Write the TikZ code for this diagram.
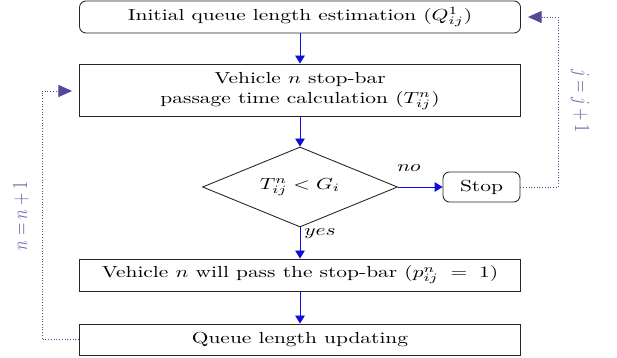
\documentclass[tikz,border=0pt]{standalone}
\usepackage{graphicx}
\usetikzlibrary{arrows.meta,shapes.geometric}
\definecolor{flowblue}{RGB}{15,15,215}
\definecolor{loopviolet}{RGB}{88,70,150}
\definecolor{labelviolet}{RGB}{120,105,170}
\newcommand{\hs}[1]{\scalebox{1.34}[1]{#1}}
\newcommand{\vs}[1]{\scalebox{1}[1.34]{#1}}
\begin{document}
\begin{tikzpicture}[x=0.625pt,y=-0.625pt,
  box/.style={draw=black!85, line width=0.55pt, minimum width=275.6pt, inner sep=0pt},
  rbox/.style={box, rounded corners=4pt},
  flow/.style={draw=flowblue, line width=0.55pt, -{Triangle[length=5pt,width=6pt]}},
  fb/.style={draw=loopviolet, line width=0.6pt, dash pattern=on 0.6pt off 1.1pt, -{Triangle[length=8.5pt,width=7.5pt]}},
  fblabel/.style={text=labelviolet, inner sep=0pt}]
\useasboundingbox (0,0) rectangle (617,358);
\node[rbox, minimum height=20pt] (b1) at (300,17) {\hs{Initial queue length estimation ($Q^{1}_{ij}$)}};
\node[box, minimum height=32.5pt] (b2) at (300,90) {\hs{\begin{tabular}{@{}c@{}}Vehicle $n$ stop-bar\\[0.6pt] passage time calculation ($T^{n}_{ij}$)\end{tabular}}};
\node[diamond, draw=black!85, line width=0.55pt, aspect=2.44, inner sep=0pt, minimum width=121.9pt, minimum height=50pt] (d) at (300,187) {\hs{$T^{n}_{ij} < G_{i}$}};
\node[rbox, minimum width=48.1pt, minimum height=18.75pt] (stop) at (481.5,187) {\hs{Stop}};
\node[box, minimum height=20pt] (b4) at (300,275) {\hs{Vehicle $n$ will pass the stop-bar ($p^{n}_{ij}\;=\;1$)}};
\node[box, minimum height=19.4pt] (b5) at (300,339.5) {\hs{Queue length updating}};

\draw[flow] (b1) -- (b2);
\draw[flow] (b2) -- (d);
\draw[flow] (d) -- (b4);
\draw[flow] (b4) -- (b5);
\draw[flow] (d) -- (stop);
\node (no) at (409,168) {\hs{$no$}};
\node (yes) at (320,234) {\hs{$yes$}};

\coordinate (rc) at (558,17);
\coordinate (lc) at (42,91);
\draw[fb, shorten >=4.4pt] (stop.east) -| (rc) -- (b1.east |- rc);
\draw[fb, shorten >=4.4pt] (b5.west) -| (lc) -- (b2.west |- lc);
\node[fblabel, rotate=-90] (lj) at (580,101) {\vs{$j=j+1$}};
\node[fblabel, rotate=90] (ln) at (21,216) {\vs{$n=n+1$}};
\end{tikzpicture}
\end{document}
